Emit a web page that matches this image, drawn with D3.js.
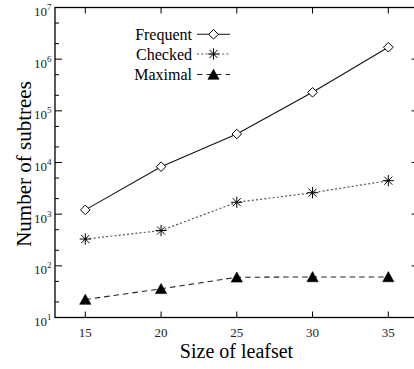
<!DOCTYPE html>
<html>
<head>
<meta charset="utf-8">
<script src="https://cdn.jsdelivr.net/npm/d3@7"></script>
<style>
  html, body { margin: 0; padding: 0; background: #fff; }
  svg { display: block; }
  text { font-family: "Liberation Serif", "Times New Roman", serif; fill: #000; }
</style>
</head>
<body>
<svg id="chart" width="414" height="369"></svg>
<script>
// Leafset sizes on the x axis
const leafsetSizes = [15, 20, 25, 30, 35];
// Number of subtrees per leafset size
const frequent = [1210, 8300, 35600, 228000, 1700000];
const checked  = [330, 482, 1700, 2600, 4450];
const maximal  = [22.3, 35.9, 60, 61, 61];
// Axis ticks
const xTicks = [15, 20, 25, 30, 35];
const yDecades = [1, 2, 3, 4, 5, 6, 7];
const seriesNames = ["Frequent", "Checked", "Maximal"];

const svg = d3.select("#chart");
const plotLeft = 55, plotRight = 418.6, plotTop = 7.5, plotBottom = 317.5;

const x = d3.scaleLinear().domain([13, 37]).range([plotLeft, plotRight]);
const y = d3.scaleLog().domain([10, 1e7]).range([plotBottom, plotTop]);

// Frame
svg.append("rect")
  .attr("x", plotLeft).attr("y", plotTop)
  .attr("width", plotRight - plotLeft).attr("height", plotBottom - plotTop)
  .attr("fill", "none").attr("stroke", "#000").attr("stroke-width", 1.3);

// Y ticks: majors at decades, minors at 2 and 5
const major = yDecades.map(k => Math.pow(10, k));
const minor = [];
yDecades.slice(0, -1).forEach(k => { minor.push(2 * Math.pow(10, k)); minor.push(5 * Math.pow(10, k)); });

const tickG = svg.append("g").attr("stroke", "#000").attr("stroke-width", 1);
major.forEach(v => {
  tickG.append("line").attr("x1", plotLeft).attr("x2", plotLeft + 7).attr("y1", y(v)).attr("y2", y(v));
  tickG.append("line").attr("x1", plotRight).attr("x2", plotRight - 7).attr("y1", y(v)).attr("y2", y(v));
});
minor.forEach(v => {
  tickG.append("line").attr("x1", plotLeft).attr("x2", plotLeft + 4).attr("y1", y(v)).attr("y2", y(v));
  tickG.append("line").attr("x1", plotRight).attr("x2", plotRight - 4).attr("y1", y(v)).attr("y2", y(v));
});
xTicks.forEach(v => {
  tickG.append("line").attr("x1", x(v)).attr("x2", x(v)).attr("y1", plotBottom).attr("y2", plotBottom - 6);
  tickG.append("line").attr("x1", x(v)).attr("x2", x(v)).attr("y1", plotTop).attr("y2", plotTop + 6);
});

// Y tick labels 10^k
yDecades.forEach(k => {
  const t = svg.append("text")
    .attr("x", 51.5).attr("y", y(Math.pow(10, k)) + 8.5)
    .attr("text-anchor", "end")
    .attr("font-size", 13).style("fill", "#222");
  t.append("tspan").text("10");
  t.append("tspan").attr("dy", -6).attr("font-size", 9).text(k);
});

// X tick labels
xTicks.forEach(v => {
  svg.append("text")
    .attr("x", x(v)).attr("y", 337)
    .attr("text-anchor", "middle")
    .attr("font-size", 13).style("fill", "#222")
    .text(v);
});

// Axis titles
svg.append("text")
  .attr("x", (plotLeft + 418) / 2).attr("y", 358)
  .attr("text-anchor", "middle").attr("font-size", 20)
  .text("Size of leafset");
svg.append("text")
  .attr("transform", "translate(31,164) rotate(-90)")
  .attr("text-anchor", "middle").attr("font-size", 21)
  .text("Number of subtrees");

// Marker drawers
function diamond(g, cx, cy) {
  const r = 4.8;
  g.append("path")
    .attr("d", `M${cx},${cy - r}L${cx + r},${cy}L${cx},${cy + r}L${cx - r},${cy}Z`)
    .attr("fill", "#fff").attr("stroke", "#000").attr("stroke-width", 1);
}
function star(g, cx, cy) {
  const r = 5.6, d = r * 0.72;
  g.append("path")
    .attr("d", `M${cx - r},${cy}L${cx + r},${cy}M${cx},${cy - r}L${cx},${cy + r}` +
               `M${cx - d},${cy - d}L${cx + d},${cy + d}M${cx - d},${cy + d}L${cx + d},${cy - d}`)
    .attr("fill", "none").attr("stroke", "#000").attr("stroke-width", 1);
}
function triangle(g, cx, cy) {
  const w = 5.6, h = 9.6;
  g.append("path")
    .attr("d", `M${cx},${cy - h / 2 - 0.5}L${cx + w},${cy + h / 2}L${cx - w},${cy + h / 2}Z`)
    .attr("fill", "#000").attr("stroke", "#000").attr("stroke-width", 0.6);
}

const series = [
  { name: seriesNames[0], values: frequent, stroke: "#111", dash: null, width: 1.1, marker: diamond },
  { name: seriesNames[1], values: checked,  stroke: "#555", dash: "2,2.2", width: 1.2, marker: star },
  { name: seriesNames[2], values: maximal,  stroke: "#222", dash: "5.5,4", width: 1.1, marker: triangle }
];

const line = d3.line().x(d => x(d[0])).y(d => y(d[1]));

series.forEach(s => {
  const pts = leafsetSizes.map((v, i) => [v, s.values[i]]);
  svg.append("path")
    .datum(pts)
    .attr("d", line)
    .attr("fill", "none")
    .attr("stroke", s.stroke)
    .attr("stroke-width", s.width)
    .attr("stroke-dasharray", s.dash);
  const g = svg.append("g");
  pts.forEach(p => s.marker(g, x(p[0]), y(p[1])));
});

// Legend
const legendRows = [34.3, 54, 74.5];
series.forEach((s, i) => {
  const ly = legendRows[i];
  svg.append("text")
    .attr("x", 192).attr("y", ly + 5.5)
    .attr("text-anchor", "end").attr("font-size", 16)
    .text(s.name);
  svg.append("line")
    .attr("x1", 197).attr("x2", 230).attr("y1", ly).attr("y2", ly)
    .attr("stroke", s.stroke).attr("stroke-width", s.width)
    .attr("stroke-dasharray", s.dash);
  const g = svg.append("g");
  s.marker(g, 213.5, ly);
});
</script>
</body>
</html>
